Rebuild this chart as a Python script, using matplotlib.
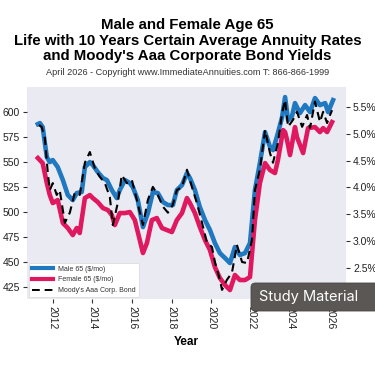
import matplotlib
matplotlib.use("Agg")
import matplotlib.pyplot as plt
from matplotlib.lines import Line2D
from matplotlib.patches import FancyBboxPatch

male_years = [2011.25, 2011.35, 2011.49, 2011.70, 2011.85, 2012.00, 2012.25, 2012.51, 2012.76, 2013.01,
              2013.21, 2013.46, 2013.62, 2013.87, 2014.02, 2014.27, 2014.53, 2014.73, 2014.98, 2015.23,
              2015.38, 2015.64, 2015.89, 2016.04, 2016.29, 2016.55, 2016.80, 2017.05, 2017.30, 2017.56,
              2017.81, 2018.06, 2018.26, 2018.52, 2018.77, 2018.92, 2019.17, 2019.42, 2019.68, 2019.93,
              2020.18, 2020.43, 2020.69, 2020.94, 2021.19, 2021.44, 2021.70, 2021.95, 2022.20, 2022.45,
              2022.71, 2022.96, 2023.11, 2023.36, 2023.57, 2023.72, 2023.87, 2024.07, 2024.22, 2024.47,
              2024.73, 2024.98, 2025.23, 2025.48, 2025.74, 2025.89, 2026.14]
male_values = [588, 589, 585, 555, 550, 552, 545, 532, 517, 512,
               519, 520, 545, 550, 547, 540, 534, 532, 522, 514,
               522, 532, 529, 525, 512, 485, 499, 520, 519, 510,
               507, 507, 522, 527, 539, 534, 522, 505, 492, 482,
               469, 459, 454, 449, 465, 457, 459, 469, 522, 549,
               580, 565, 562, 579, 595, 615, 592, 596, 609, 599,
               607, 600, 614, 607, 609, 600, 612]

female_years = [2011.25, 2011.49, 2011.70, 2011.85, 2012.00, 2012.25, 2012.51, 2012.76, 2013.01, 2013.21,
                2013.36, 2013.62, 2013.87, 2014.02, 2014.27, 2014.53, 2014.78, 2014.98, 2015.13, 2015.38,
                2015.64, 2015.89, 2016.14, 2016.39, 2016.55, 2016.75, 2017.00, 2017.25, 2017.51, 2017.76,
                2018.01, 2018.26, 2018.52, 2018.77, 2018.92, 2019.17, 2019.42, 2019.68, 2019.93, 2020.18,
                2020.43, 2020.69, 2020.94, 2021.19, 2021.44, 2021.70, 2021.95, 2022.20, 2022.45, 2022.71,
                2022.96, 2023.21, 2023.36, 2023.62, 2023.72, 2023.82, 2023.97, 2024.22, 2024.32, 2024.63,
                2024.88, 2025.23, 2025.48, 2025.64, 2025.84, 2026.09]
female_values = [554, 549, 529, 517, 509, 512, 489, 484, 477, 484,
                 479, 514, 517, 514, 510, 504, 502, 497, 487, 499,
                 499, 500, 492, 472, 459, 469, 492, 494, 484, 482,
                 480, 492, 499, 514, 509, 499, 485, 472, 462, 445,
                 434, 427, 422, 437, 432, 432, 435, 492, 529, 549,
                 542, 539, 552, 582, 580, 572, 557, 585, 575, 559,
                 584, 585, 580, 584, 580, 590]

moody_years = [2011.30, 2011.44, 2011.60, 2011.75, 2011.85, 2012.00, 2012.20, 2012.35, 2012.61, 2012.86,
               2013.11, 2013.36, 2013.62, 2013.87, 2014.12, 2014.37, 2014.63, 2014.88, 2015.03, 2015.28,
               2015.48, 2015.74, 2015.99, 2016.24, 2016.55, 2016.80, 2017.05, 2017.30, 2017.56, 2017.81,
               2018.06, 2018.26, 2018.52, 2018.77, 2019.02, 2019.27, 2019.53, 2019.78, 2020.03, 2020.18,
               2020.43, 2020.54, 2020.79, 2021.04, 2021.29, 2021.55, 2021.80, 2022.05, 2022.20, 2022.45,
               2022.71, 2022.96, 2023.11, 2023.36, 2023.57, 2023.72, 2023.87, 2024.12, 2024.32, 2024.58,
               2024.83, 2024.98, 2025.23, 2025.48, 2025.64, 2025.84, 2025.99, 2026.09]
moody_values = [5.16, 5.13, 4.92, 4.27, 3.95, 4.08, 3.86, 3.95, 3.34, 3.53,
                3.90, 3.86, 4.46, 4.66, 4.36, 4.20, 4.08, 3.82, 3.30, 3.71,
                4.23, 4.08, 4.14, 3.77, 3.30, 3.77, 4.01, 3.86, 3.64, 3.53,
                3.68, 3.95, 4.01, 4.33, 4.01, 3.71, 3.34, 2.97, 2.89, 2.61,
                2.28, 2.09, 2.28, 2.41, 2.93, 2.61, 2.59, 3.02, 3.95, 4.33,
                5.07, 4.64, 4.46, 4.83, 5.39, 5.63, 5.13, 5.26, 5.41, 5.13,
                5.35, 5.11, 5.60, 5.22, 5.41, 5.20, 5.35, 5.44]

left_ticks = [425, 450, 475, 500, 525, 550, 575, 600]
right_ticks = [2.5, 3.0, 3.5, 4.0, 4.5, 5.0, 5.5]
x_ticks = [2012, 2014, 2016, 2018, 2020, 2022, 2024, 2026]

plt.rcParams['font.family'] = ['Liberation Sans', 'DejaVu Sans']

W, H = 375, 366
fig = plt.figure(figsize=(3.75, 3.66), dpi=100)
ax = fig.add_axes([0.072, 0.183, 0.851, 0.579])
ax.set_facecolor('#EAEAF2')
for s in ax.spines.values():
    s.set_visible(False)

male_c = '#1f78c0'
female_c = '#e0185f'
ax.plot(male_years, male_values, color=male_c, lw=3.3, solid_joinstyle='round', zorder=2)
ax.plot(female_years, female_values, color=female_c, lw=3.3, solid_joinstyle='round', zorder=2)
ax.set_ylim(413, 625)
ax.set_xlim(2010.7, 2026.8)
ax.set_yticks(left_ticks)
ax.set_yticklabels([str(v) for v in left_ticks])
ax.set_xticks(x_ticks)
ax.set_xticklabels([str(v) for v in x_ticks], rotation=-90)
ax.tick_params(axis='both', labelsize=7.5, length=3, width=0.8, color='#333333', pad=2, labelcolor='#222222')

ax2 = ax.twinx()
for s in ax2.spines.values():
    s.set_visible(False)
ax2.plot(moody_years, moody_values, color='black', lw=1.5, ls=(0, (4, 2.5)), zorder=3)
ax2.set_ylim(1.92, 5.87)
ax2.set_yticks(right_ticks)
ax2.set_yticklabels([f"{v:.1f}%" for v in right_ticks])
ax2.tick_params(axis='y', labelsize=7.5, length=3, width=0.8, color='#333333', pad=2, labelcolor='#222222')

ax.set_xlabel('Year', fontsize=8.5, fontweight='bold', labelpad=5)

handles = [Line2D([], [], color=male_c, lw=3),
           Line2D([], [], color=female_c, lw=3),
           Line2D([], [], color='black', lw=1.4, ls=(0, (4, 2.5)))]
labels = ['Male 65 ($/mo)', 'Female 65 ($/mo)', "Moody's Aaa Corp. Bond"]
leg = ax2.legend(handles, labels, loc='lower left', fontsize=5.0, frameon=True,
                 fancybox=True, framealpha=1, edgecolor='#dddddd', handlelength=3,
                 borderaxespad=0.3, labelspacing=0.55)
leg.get_frame().set_linewidth(0.6)
for t in leg.get_texts():
    t.set_color('#333333')

fig.text(0.5, 1 - 40.5 / H, "Male and Female Age 65\nLife with 10 Years Certain Average Annuity Rates\nand Moody's Aaa Corporate Bond Yields",
         ha='center', va='center', fontsize=10.8, fontweight='bold', linespacing=1.1)
fig.text(0.5, 1 - 72.5 / H, "April 2026 - Copyright www.ImmediateAnnuities.com T: 866-866-1999",
         ha='center', va='center', fontsize=6.6, color='#333333')

box = FancyBboxPatch((251 / W, 1 - 311 / H), 140 / W, 28 / H,
                     boxstyle='round,pad=0,rounding_size=0.012', transform=fig.transFigure,
                     fc='#5b5755', ec='#4a4644', lw=0.6, zorder=10)
fig.patches.append(box)
fig.text(259 / W, 1 - 297 / H, "Study Material", ha='left', va='center', fontsize=10.5, color='white',
         family=['Inter', 'DejaVu Sans'], zorder=11)

fig.savefig('out.png', dpi=100)
